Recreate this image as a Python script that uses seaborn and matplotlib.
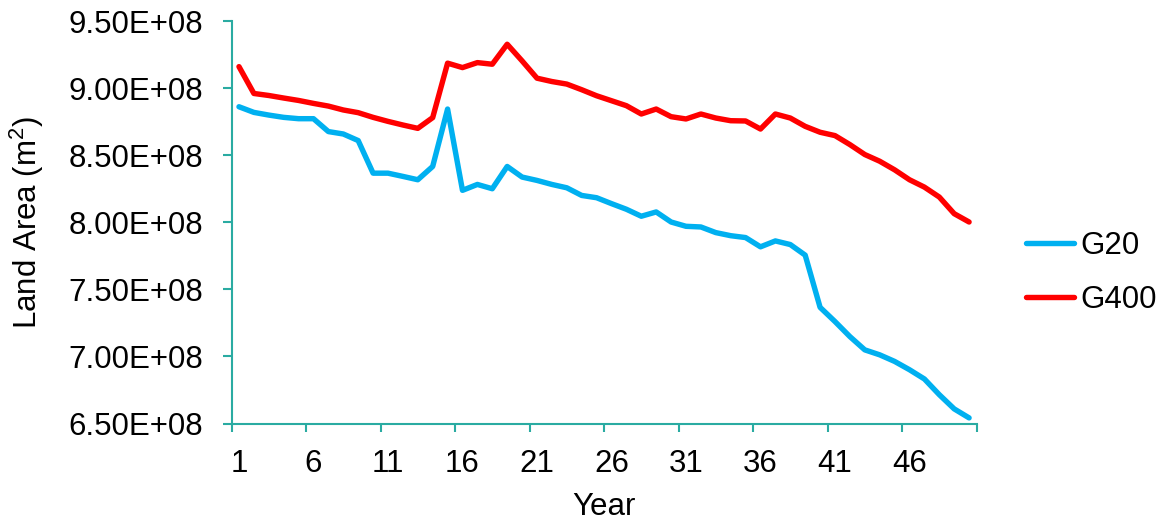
import numpy as np
import pandas as pd
import matplotlib
matplotlib.use("Agg")
import matplotlib.pyplot as plt
from matplotlib.ticker import FixedLocator, FuncFormatter
import seaborn as sns

years = list(range(1, 51))
g20 = [8.861, 8.819, 8.799, 8.782, 8.772, 8.772, 8.676, 8.658, 8.609, 8.366,
       8.366, 8.342, 8.317, 8.416, 8.844, 8.238, 8.282, 8.250, 8.416, 8.337,
       8.312, 8.282, 8.257, 8.200, 8.183, 8.139, 8.097, 8.045, 8.077, 8.002,
       7.970, 7.965, 7.923, 7.900, 7.886, 7.817, 7.861, 7.834, 7.755, 7.366,
       7.260, 7.148, 7.049, 7.012, 6.963, 6.901, 6.832, 6.715, 6.609, 6.542]
g400 = [9.160, 8.960, 8.945, 8.926, 8.908, 8.886, 8.866, 8.837, 8.817, 8.782,
        8.752, 8.725, 8.700, 8.780, 9.186, 9.153, 9.190, 9.178, 9.327, 9.203,
        9.074, 9.049, 9.030, 8.988, 8.943, 8.906, 8.869, 8.807, 8.844, 8.787,
        8.770, 8.807, 8.777, 8.757, 8.755, 8.695, 8.807, 8.777, 8.715, 8.671,
        8.646, 8.579, 8.505, 8.455, 8.391, 8.317, 8.262, 8.188, 8.064, 8.002]
series_names = ["G20", "G400"]
colors = ["#00B0F0", "#FF0000"]
ytick_values = [6.5e8, 7.0e8, 7.5e8, 8.0e8, 8.5e8, 9.0e8, 9.5e8]
xtick_labels = [1, 6, 11, 16, 21, 26, 31, 36, 41, 46]

df = pd.DataFrame({
    "Year": years * 2,
    "Area": [v * 1e8 for v in g20] + [v * 1e8 for v in g400],
    "Series": ["G20"] * 50 + ["G400"] * 50,
})

sns.set_theme(style="white")
plt.rcParams["font.family"] = ["Liberation Sans", "DejaVu Sans"]
plt.rcParams["mathtext.fontset"] = "custom"
plt.rcParams["mathtext.rm"] = "Liberation Sans"
plt.rcParams["text.color"] = "black"
plt.rcParams["axes.labelcolor"] = "black"

FS = 22.5

fig = plt.figure(figsize=(11.67, 5.23), dpi=100)
ax = fig.add_axes([0.1984, 0.1902, 0.8368 - 0.1984, 0.9598 - 0.1902])

sns.lineplot(data=df, x="Year", y="Area", hue="Series", hue_order=series_names,
             palette=colors, linewidth=3.9, ax=ax, legend=True,
             solid_capstyle="round", solid_joinstyle="round")

axis_color = "#2AABA2"
ax.set_xlim(0.5, 50.5)
ax.set_ylim(6.5e8, 9.5e8)
for s in ["top", "right"]:
    ax.spines[s].set_visible(False)
for s in ["left", "bottom"]:
    ax.spines[s].set_color(axis_color)
    ax.spines[s].set_linewidth(1.5)

ax.yaxis.set_major_locator(FixedLocator(ytick_values))
ax.yaxis.set_major_formatter(FuncFormatter(lambda v, p: f"{v/1e8:.2f}E+08"))
ax.tick_params(axis="y", which="major", direction="out", length=6.5, width=1.5,
               color=axis_color, labelcolor="black", labelsize=FS, pad=14, left=True)

boundaries = [0.5 + 5 * k for k in range(11)]
ax.xaxis.set_major_locator(FixedLocator(boundaries))
ax.xaxis.set_major_formatter(FuncFormatter(lambda v, p: ""))
ax.xaxis.set_minor_locator(FixedLocator(xtick_labels))
ax.xaxis.set_minor_formatter(FuncFormatter(lambda v, p: f"{int(round(v))}"))
ax.tick_params(axis="x", which="major", direction="out", length=6, width=1.5,
               color=axis_color, bottom=True)
ax.tick_params(axis="x", which="minor", length=0, labelsize=FS, labelcolor="black",
               pad=18, bottom=True)

ax.set_xlabel("Year", fontsize=FS, labelpad=10)
ax.set_ylabel("Land Area (m$^2$)", fontsize=FS, labelpad=16)

handles, labels = ax.get_legend_handles_labels()
for h in handles:
    h.set_solid_capstyle("round")
ax.legend(handles, labels, loc="center left", bbox_to_anchor=(0.879, 0.478),
          bbox_transform=fig.transFigure, frameon=False, fontsize=FS,
          handlelength=1.55, handletextpad=0.2, labelspacing=0.75, borderpad=0,
          borderaxespad=0)

fig.savefig("out.png", dpi=100)
